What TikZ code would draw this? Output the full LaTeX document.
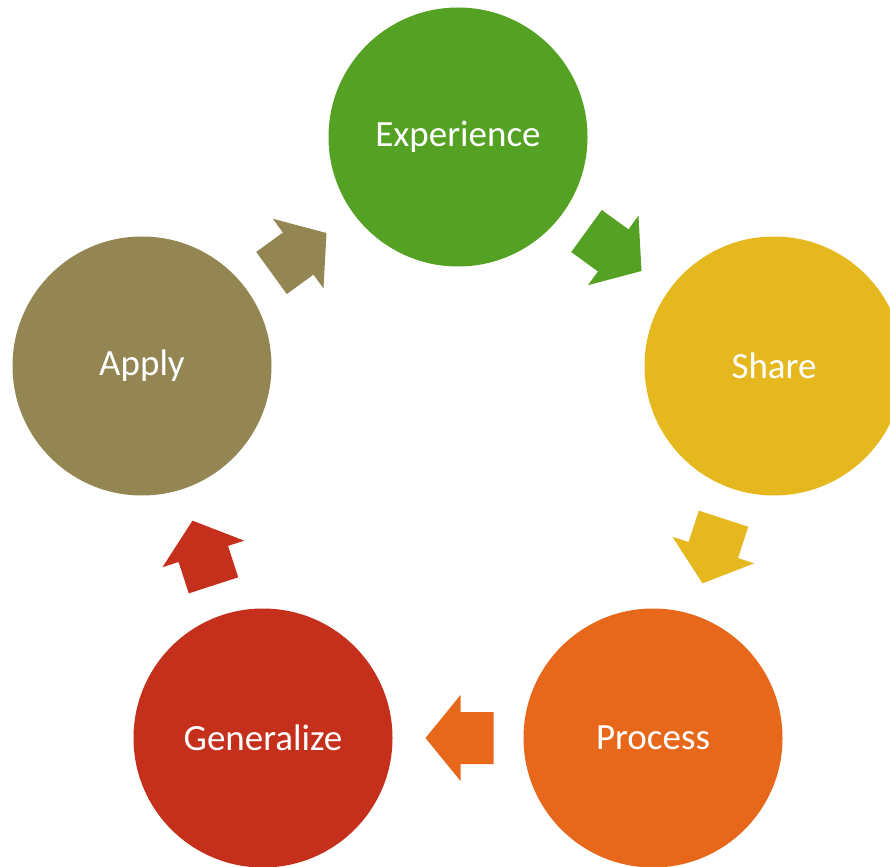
\documentclass[tikz,border=0pt]{standalone}
\usepackage{fontspec}
\setmainfont{Carlito}
\definecolor{cgreen}{HTML}{55A123}
\definecolor{cyellow}{HTML}{E5B820}
\definecolor{corange}{HTML}{E7681A}
\definecolor{cred}{HTML}{C4301C}
\definecolor{colive}{HTML}{938653}
\tikzset{
  stage/.style={circle, fill=#1, minimum size=259pt, inner sep=0pt, text=white, font=\fontsize{37}{44}\selectfont},
  blockarrow/.style={fill=#1, draw=none}
}
\newcommand{\blockarr}[4]{% x, y, angle, colour
  \begin{scope}[shift={(#1,#2)}, rotate=#3]
    \fill[blockarrow=#4] (-34,-26) -- (-1,-26) -- (-1,-43) -- (34,0) -- (-1,43) -- (-1,26) -- (-34,26) -- cycle;
  \end{scope}}
\begin{document}
\begin{tikzpicture}[x=1pt,y=-1pt]
\useasboundingbox (0,0) rectangle (890,866);
\node[stage=cgreen]  (exp) at (458,137)   {Experience};
\node[stage=cyellow] (sha) at (774,366)   {Share};
\node[stage=corange] (pro) at (653,738)   {Process};
\node[stage=cred]    (gen) at (263,738)   {Generalize};
\node[stage=colive]  (app) at (142,366)   {Apply};
% arrows (y axis points down)
\blockarr{614}{251}{-36}{cgreen}
\blockarr{713}{551}{-108}{cyellow}
\blockarr{459.5}{738}{180}{corange}
\blockarr{203}{553}{108}{cred}
\blockarr{299}{253}{36}{colive}
\end{tikzpicture}
\end{document}
